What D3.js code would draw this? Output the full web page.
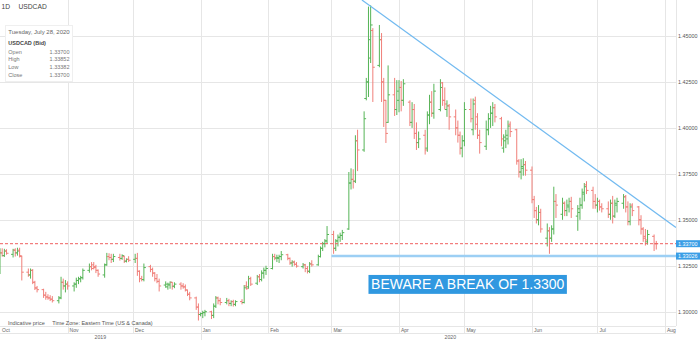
<!DOCTYPE html>
<html>
<head>
<meta charset="utf-8">
<script src="https://cdn.jsdelivr.net/npm/d3@7"></script>
<style>
    html, body { margin: 0; padding: 0; background: #fff; }
    svg { display: block; font-family: "Liberation Sans", Arial, sans-serif; }
</style>
</head>
<body>
<svg id="chart" width="700" height="340"></svg>
<script>
var symbol = 'USDCAD',
    interval = '1D',
    firstDay = '2019-10-01',
    lastDay = '2020-07-28';

// daily bars, one line per week (Mon-Fri)
var opens = [
    1.3240,1.3320,1.3305,1.3330,
    1.3312,1.3335,1.3320,1.3335,1.3300,
    1.3215,1.3200,1.3225,1.3160,1.3128,
    1.3120,1.3090,1.3080,1.3075,1.3068,
    1.3060,1.3075,1.3160,1.3140,1.3150,
    1.3140,1.3150,1.3170,1.3178,1.3185,
    1.3225,1.3245,1.3255,1.3245,1.3225,
    1.3200,1.3255,1.3300,1.3295,1.3285,
    1.3295,1.3290,1.3300,1.3275,1.3285,
    1.3285,1.3290,1.3220,1.3180,1.3175,
    1.3245,1.3230,1.3210,1.3180,1.3165,
    1.3145,1.3135,1.3145,1.3160,1.3138,
    1.3150,1.3140,1.3135,1.3118,1.3095,
    1.3075,1.3025,1.2985,1.2990,1.2995,
    1.3000,1.2980,1.3030,1.3075,1.3060,
    1.3050,1.3060,1.3045,1.3055,1.3040,
    1.3055,1.3050,1.3140,1.3135,1.3180,
    1.3155,1.3190,1.3175,1.3210,1.3225,
    1.3235,1.3300,1.3292,1.3290,1.3300,
    1.3310,1.3290,1.3265,1.3270,1.3258,
    1.3245,1.3255,1.3235,1.3220,1.3260,
    1.3255,1.3300,1.3345,1.3370,1.3385,
    1.3420,1.3345,1.3385,1.3405,1.3415,
    1.3450,1.3700,1.3720,1.3710,1.3930,
    1.3880,1.4160,1.4250,1.4380,1.4530,
    1.4340,1.4480,1.4250,1.4150,1.4030,
    1.4180,1.4100,1.4150,1.4220,1.4150,
    1.4140,1.4030,1.4100,1.3970,1.3920,
    1.3960,1.3890,1.4070,1.4140,1.4080,
    1.4100,1.4245,1.4150,1.4100,1.4120,
    1.4060,1.4000,1.3960,1.3890,1.3930,
    1.4100,1.3990,1.4150,1.4060,1.3960,
    1.3900,1.3990,1.4050,1.4080,1.4110,
    1.4050,1.3890,1.3930,1.3940,1.4020,
    1.3990,1.3820,1.3760,1.3780,1.3800,
    1.3770,1.3610,1.3550,1.3500,1.3540,
    1.3400,1.3440,1.3400,1.3450,1.3600,
    1.3530,1.3590,1.3550,1.3570,1.3600,
    1.3520,1.3540,1.3580,1.3640,1.3690,
    1.3660,1.3600,1.3580,1.3600,1.3570,
    1.3560,1.3530,1.3590,1.3520,1.3580,
    1.3590,1.3625,1.3570,1.3490,1.3580,
    1.3570,1.3500,1.3450,1.3410,1.3380,
    1.3410,1.3370
];

var highs = [
    1.3345,1.3345,1.3342,1.3340,
    1.3342,1.3345,1.3348,1.3348,1.3305,
    1.3235,1.3235,1.3232,1.3168,1.3140,
    1.3125,1.3108,1.3095,1.3090,1.3085,
    1.3085,1.3190,1.3180,1.3172,1.3165,
    1.3160,1.3185,1.3190,1.3195,1.3235,
    1.3262,1.3270,1.3270,1.3255,1.3230,
    1.3262,1.3320,1.3318,1.3315,1.3315,
    1.3315,1.3312,1.3305,1.3290,1.3302,
    1.3315,1.3320,1.3225,1.3195,1.3262,
    1.3255,1.3240,1.3215,1.3205,1.3180,
    1.3165,1.3158,1.3165,1.3162,1.3160,
    1.3160,1.3155,1.3148,1.3120,1.3108,
    1.3082,1.3045,1.2995,1.3005,1.3010,
    1.3005,1.3045,1.3085,1.3082,1.3075,
    1.3075,1.3070,1.3062,1.3065,1.3062,
    1.3068,1.3145,1.3165,1.3195,1.3190,
    1.3200,1.3205,1.3225,1.3240,1.3250,
    1.3315,1.3315,1.3310,1.3310,1.3330,
    1.3315,1.3295,1.3280,1.3278,1.3270,
    1.3265,1.3260,1.3248,1.3270,1.3280,
    1.3310,1.3355,1.3380,1.3395,1.3466,
    1.3440,1.3395,1.3420,1.3430,1.3445,
    1.3760,1.3780,1.3775,1.3960,1.3990,
    1.4090,1.4272,1.4660,1.4667,1.4543,
    1.4560,1.4516,1.4272,1.4152,1.4340,
    1.4272,1.4260,1.4260,1.4255,1.4265,
    1.4150,1.4140,1.4130,1.4030,1.3980,
    1.3990,1.4090,1.4180,1.4200,1.4240,
    1.4265,1.4250,1.4220,1.4150,1.4130,
    1.4100,1.4040,1.3980,1.3960,1.4140,
    1.4160,1.4160,1.4170,1.4080,1.3990,
    1.4040,1.4080,1.4120,1.4140,1.4130,
    1.4060,1.3965,1.3990,1.4040,1.4035,
    1.3995,1.3830,1.3830,1.3835,1.3820,
    1.3790,1.3630,1.3570,1.3580,1.3560,
    1.3480,1.3460,1.3470,1.3680,1.3640,
    1.3620,1.3600,1.3610,1.3620,1.3625,
    1.3580,1.3620,1.3670,1.3700,1.3710,
    1.3680,1.3640,1.3620,1.3610,1.3590,
    1.3600,1.3610,1.3630,1.3610,1.3620,
    1.3640,1.3635,1.3600,1.3590,1.3590,
    1.3575,1.3525,1.3460,1.3450,1.3445,
    1.3420,1.33852
];

var lows = [
    1.3205,1.3300,1.3298,1.3310,
    1.3295,1.3300,1.3305,1.3295,1.3170,
    1.3190,1.3180,1.3150,1.3118,1.3105,
    1.3075,1.3065,1.3065,1.3058,1.3050,
    1.3045,1.3068,1.3120,1.3105,1.3120,
    1.3110,1.3130,1.3150,1.3160,1.3175,
    1.3212,1.3225,1.3230,1.3210,1.3190,
    1.3185,1.3250,1.3280,1.3265,1.3270,
    1.3278,1.3282,1.3265,1.3268,1.3270,
    1.3265,1.3195,1.3160,1.3165,1.3165,
    1.3215,1.3190,1.3165,1.3155,1.3110,
    1.3130,1.3120,1.3125,1.3120,1.3128,
    1.3120,1.3125,1.3110,1.3085,1.3062,
    1.3010,1.2952,1.2975,1.2965,1.2975,
    1.2960,1.2965,1.3020,1.3040,1.3035,
    1.3040,1.3030,1.3030,1.3028,1.3030,
    1.3040,1.3045,1.3120,1.3125,1.3140,
    1.3145,1.3160,1.3165,1.3180,1.3200,
    1.3230,1.3280,1.3270,1.3265,1.3280,
    1.3280,1.3255,1.3245,1.3250,1.3240,
    1.3235,1.3215,1.3208,1.3210,1.3245,
    1.3250,1.3295,1.3330,1.3350,1.3370,
    1.3315,1.3330,1.3355,1.3380,1.3390,
    1.3445,1.3665,1.3670,1.3700,1.3765,
    1.3870,1.4150,1.4168,1.4353,1.4141,
    1.4330,1.4141,1.4005,1.3918,1.4027,
    1.4065,1.4070,1.4085,1.4090,1.4120,
    1.4010,1.4000,1.3940,1.3880,1.3890,
    1.3855,1.3870,1.4020,1.4060,1.4050,
    1.4090,1.4120,1.4100,1.4060,1.3990,
    1.3960,1.3920,1.3855,1.3840,1.3900,
    1.4030,1.3960,1.3990,1.3940,1.3860,
    1.3880,1.3960,1.4000,1.4010,1.4030,
    1.3900,1.3865,1.3890,1.3910,1.3950,
    1.3800,1.3730,1.3720,1.3740,1.3740,
    1.3590,1.3510,1.3480,1.3470,1.3430,
    1.3355,1.3315,1.3380,1.3420,1.3510,
    1.3500,1.3520,1.3520,1.3540,1.3510,
    1.3440,1.3500,1.3560,1.3600,1.3640,
    1.3560,1.3560,1.3540,1.3550,1.3540,
    1.3510,1.3500,1.3480,1.3510,1.3540,
    1.3560,1.3540,1.3470,1.3470,1.3520,
    1.3470,1.3420,1.3380,1.3360,1.3365,
    1.3330,1.33382
];

var closes = [
    1.3320,1.3305,1.3330,1.3318,
    1.3335,1.3320,1.3330,1.3305,1.3215,
    1.3200,1.3225,1.3160,1.3130,1.3120,
    1.3090,1.3080,1.3075,1.3068,1.3060,
    1.3075,1.3160,1.3140,1.3150,1.3140,
    1.3150,1.3170,1.3180,1.3185,1.3225,
    1.3245,1.3235,1.3240,1.3225,1.3205,
    1.3255,1.3300,1.3295,1.3285,1.3300,
    1.3290,1.3305,1.3275,1.3285,1.3280,
    1.3290,1.3220,1.3180,1.3175,1.3240,
    1.3230,1.3210,1.3180,1.3165,1.3140,
    1.3150,1.3150,1.3160,1.3140,1.3150,
    1.3140,1.3135,1.3118,1.3095,1.3075,
    1.3025,1.2985,1.2990,1.2995,1.3000,
    1.2980,1.3030,1.3075,1.3060,1.3050,
    1.3060,1.3045,1.3055,1.3040,1.3055,
    1.3050,1.3130,1.3125,1.3180,1.3150,
    1.3190,1.3175,1.3210,1.3225,1.3235,
    1.3300,1.3292,1.3295,1.3300,1.3310,
    1.3290,1.3265,1.3270,1.3258,1.3248,
    1.3255,1.3235,1.3220,1.3260,1.3255,
    1.3300,1.3345,1.3370,1.3385,1.3420,
    1.3345,1.3385,1.3405,1.3415,1.3430,
    1.3700,1.3720,1.3710,1.3930,1.3880,
    1.4050,1.4250,1.4480,1.4560,1.4330,
    1.4480,1.4250,1.4150,1.3970,1.4180,
    1.4100,1.4200,1.4220,1.4150,1.4240,
    1.4030,1.4100,1.3970,1.3920,1.3940,
    1.3880,1.4070,1.4140,1.4080,1.4200,
    1.4220,1.4150,1.4130,1.4120,1.4060,
    1.4000,1.3960,1.3890,1.3930,1.4100,
    1.4050,1.4130,1.4020,1.3960,1.3920,
    1.3990,1.4050,1.4080,1.4110,1.4060,
    1.3940,1.3950,1.3960,1.4010,1.3980,
    1.3820,1.3760,1.3790,1.3800,1.3770,
    1.3610,1.3550,1.3500,1.3540,1.3450,
    1.3440,1.3400,1.3450,1.3600,1.3580,
    1.3590,1.3550,1.3580,1.3600,1.3560,
    1.3560,1.3580,1.3650,1.3680,1.3660,
    1.3600,1.3580,1.3600,1.3570,1.3560,
    1.3530,1.3590,1.3520,1.3590,1.3600,
    1.3625,1.3570,1.3490,1.3570,1.3550,
    1.3500,1.3450,1.3400,1.3390,1.3420,
    1.3370,1.3370
];

var priceTicks = [1.30, 1.325, 1.35, 1.375, 1.40, 1.425, 1.45],
    monthLabels = ['Oct', 'Nov', 'Dec', 'Jan', 'Feb', 'Mar', 'Apr', 'May', 'Jun', 'Jul', 'Aug'],
    yearLabels = ['2019', '2020'],
    supportLevel = 1.33026,
    trendDates = ['2020-03-15', '2020-08-06'],
    trendPrices = [1.4696, 1.3458],
    note = 'BEWARE A BREAK OF 1.3300';

(function(){
    'use strict';

    var plotW = 676,
        plotH = 326,
        parse = d3.timeParse( '%Y-%m-%d' ),
        fmt = d3.format( '.5f' ),
        svg = d3.select( '#chart' ),
        days = d3.timeDay.range( parse( firstDay ), d3.timeDay.offset( parse( lastDay ), 1 ) )
            .filter( function( d ){ return d.getDay() !== 0 && d.getDay() !== 6; } ),
        bars = days.map( function( d, i ){
            return { date: d, o: opens[i], h: highs[i], l: lows[i], c: closes[i] };
        }),
        last = bars[bars.length - 1],
        months = d3.timeMonth.range( parse( '2019-10-01' ), parse( '2020-08-02' ) ),
        x = d3.scaleTime()
            .domain( [parse( '2019-10-01' ), parse( '2020-08-01' )] )
            .range( [0, 665] ),
        y = d3.scaleLinear()
            .domain( [1.30, 1.45] )
            .range( [311.7, 36] ),
        grid = '#e6e6e6',
        up = '#56b457',
        down = '#f07f79';

    svg.append( 'defs' ).append( 'clipPath' )
        .attr( 'id', 'plot' )
        .append( 'rect' )
        .attr( 'width', plotW )
        .attr( 'height', plotH );

    // grid
    svg.append( 'g' ).selectAll( 'line' )
        .data( priceTicks )
        .join( 'line' )
        .attr( 'x1', 0 ).attr( 'x2', plotW )
        .attr( 'y1', function( d ){ return Math.round( y( d ) ) + 0.5; } )
        .attr( 'y2', function( d ){ return Math.round( y( d ) ) + 0.5; } )
        .attr( 'stroke', grid );

    svg.append( 'g' ).selectAll( 'line' )
        .data( months.slice( 1 ) )
        .join( 'line' )
        .attr( 'x1', function( d ){ return Math.round( x( d ) ) + 0.5; } )
        .attr( 'x2', function( d ){ return Math.round( x( d ) ) + 0.5; } )
        .attr( 'y1', 0 )
        .attr( 'y2', function( d ){ return d.getMonth() === 0 ? 340 : 333; } )
        .attr( 'stroke', grid );

    // axis frame
    svg.append( 'line' )
        .attr( 'x1', 0 ).attr( 'x2', plotW ).attr( 'y1', 326.5 ).attr( 'y2', 326.5 )
        .attr( 'stroke', grid );
    svg.append( 'line' )
        .attr( 'x1', 0 ).attr( 'x2', plotW ).attr( 'y1', 333.5 ).attr( 'y2', 333.5 )
        .attr( 'stroke', grid );
    svg.append( 'line' )
        .attr( 'x1', plotW + 0.5 ).attr( 'x2', plotW + 0.5 ).attr( 'y1', 0 ).attr( 'y2', plotH )
        .attr( 'stroke', grid );

    var plot = svg.append( 'g' ).attr( 'clip-path', 'url(#plot)' );

    // ohlc bars
    var $bar = plot.append( 'g' ).selectAll( 'g' )
        .data( bars )
        .join( 'g' )
        .attr( 'stroke', function( d ){ return d.c > d.o ? up : down; } )
        .attr( 'stroke-width', 1 );

    $bar.append( 'line' )
        .attr( 'x1', function( d ){ return x( d.date ); } )
        .attr( 'x2', function( d ){ return x( d.date ); } )
        .attr( 'y1', function( d ){ return y( d.h ); } )
        .attr( 'y2', function( d ){ return y( d.l ); } );
    $bar.append( 'line' )
        .attr( 'x1', function( d ){ return x( d.date ) - 2; } )
        .attr( 'x2', function( d ){ return x( d.date ); } )
        .attr( 'y1', function( d ){ return y( d.o ); } )
        .attr( 'y2', function( d ){ return y( d.o ); } );
    $bar.append( 'line' )
        .attr( 'x1', function( d ){ return x( d.date ); } )
        .attr( 'x2', function( d ){ return x( d.date ) + 2; } )
        .attr( 'y1', function( d ){ return y( d.c ); } )
        .attr( 'y2', function( d ){ return y( d.c ); } );

    // last price, support and trend lines
    plot.append( 'line' )
        .attr( 'x1', 0 ).attr( 'x2', plotW )
        .attr( 'y1', y( last.c ) ).attr( 'y2', y( last.c ) )
        .attr( 'stroke', '#ef5f5f' )
        .attr( 'stroke-dasharray', '3,2' );

    plot.append( 'line' )
        .attr( 'x1', x( parse( '2020-03-01' ) ) ).attr( 'x2', plotW )
        .attr( 'y1', y( supportLevel ) ).attr( 'y2', y( supportLevel ) )
        .attr( 'stroke', '#9ccff4' )
        .attr( 'stroke-width', 2.5 );

    plot.append( 'line' )
        .attr( 'x1', x( parse( trendDates[0] ) ) ).attr( 'x2', x( parse( trendDates[1] ) ) )
        .attr( 'y1', y( trendPrices[0] ) ).attr( 'y2', y( trendPrices[1] ) )
        .attr( 'stroke', '#72baf0' )
        .attr( 'stroke-width', 1.2 );

    // annotation
    var ax0 = x( parse( '2020-03-18' ) ),
        ax1 = x( parse( '2020-06-17' ) ),
        ay0 = y( 1.3200 ),
        ay1 = y( 1.3097 );
    svg.append( 'rect' )
        .attr( 'x', ax0 ).attr( 'y', ay0 )
        .attr( 'width', ax1 - ax0 ).attr( 'height', ay1 - ay0 )
        .attr( 'fill', '#3098e0' );
    svg.append( 'text' )
        .attr( 'x', ( ax0 + ax1 ) / 2 )
        .attr( 'y', ( ay0 + ay1 ) / 2 + 5 )
        .attr( 'text-anchor', 'middle' )
        .attr( 'font-size', 14 )
        .attr( 'fill', '#fff' )
        .text( note );

    // right axis
    svg.append( 'g' ).selectAll( 'text' )
        .data( priceTicks )
        .join( 'text' )
        .attr( 'x', 678 )
        .attr( 'y', function( d ){ return y( d ) + 2; } )
        .attr( 'font-size', 5.4 )
        .attr( 'fill', '#555' )
        .text( fmt );

    [last.c, supportLevel].forEach( function( v ){
        svg.append( 'rect' )
            .attr( 'x', plotW ).attr( 'y', y( v ) - 3.5 )
            .attr( 'width', 24 ).attr( 'height', 7 )
            .attr( 'fill', '#3a9ee6' );
        svg.append( 'text' )
            .attr( 'x', 678 ).attr( 'y', y( v ) + 2 )
            .attr( 'font-size', 5.4 )
            .attr( 'fill', '#fff' )
            .text( fmt( v ) );
    });

    // bottom axis
    svg.append( 'g' ).selectAll( 'text' )
        .data( months )
        .join( 'text' )
        .attr( 'x', function( d ){ return x( d ) + 2; } )
        .attr( 'y', 331.5 )
        .attr( 'font-size', 5 )
        .attr( 'fill', '#666' )
        .text( function( d, i ){ return monthLabels[i]; } );

    var yearSpans = [[0, x( parse( '2020-01-01' ) )], [x( parse( '2020-01-01' ) ), 700]];
    svg.append( 'g' ).selectAll( 'text' )
        .data( yearLabels )
        .join( 'text' )
        .attr( 'x', function( d, i ){ return ( yearSpans[i][0] + yearSpans[i][1] ) / 2; } )
        .attr( 'y', 339 )
        .attr( 'text-anchor', 'middle' )
        .attr( 'font-size', 5.2 )
        .attr( 'fill', '#666' )
        .text( function( d ){ return d; } );

    svg.append( 'rect' )
        .attr( 'x', plotW + 1 ).attr( 'y', 327 )
        .attr( 'width', 23 ).attr( 'height', 13 )
        .attr( 'fill', '#fff' );

    svg.append( 'text' )
        .attr( 'x', 8 ).attr( 'y', 325 )
        .attr( 'font-size', 5.5 ).attr( 'fill', '#555' )
        .text( 'Indicative price' );
    svg.append( 'text' )
        .attr( 'x', 52.3 ).attr( 'y', 325 )
        .attr( 'font-size', 5.5 ).attr( 'fill', '#555' )
        .text( 'Time Zone: Eastern Time (US & Canada)' );

    // header and legend box
    svg.append( 'text' )
        .attr( 'x', 1.5 ).attr( 'y', 9 )
        .attr( 'font-size', 6.7 ).attr( 'fill', '#444' )
        .text( interval );
    svg.append( 'text' )
        .attr( 'x', 18.5 ).attr( 'y', 9 )
        .attr( 'font-size', 6.7 ).attr( 'fill', '#444' )
        .text( symbol );

    var legend = svg.append( 'g' );
    legend.append( 'rect' )
        .attr( 'x', 5.5 ).attr( 'y', 25.5 )
        .attr( 'width', 67 ).attr( 'height', 56 )
        .attr( 'fill', '#fff' )
        .attr( 'stroke', '#efefef' );
    legend.append( 'text' )
        .attr( 'x', 8.3 ).attr( 'y', 33.7 )
        .attr( 'font-size', 6 ).attr( 'fill', '#666' )
        .text( d3.timeFormat( '%A, %B %-d, %Y' )( last.date ) );
    legend.append( 'text' )
        .attr( 'x', 8.3 ).attr( 'y', 45.2 )
        .attr( 'font-size', 5.5 ).attr( 'font-weight', 'bold' ).attr( 'fill', '#444' )
        .text( symbol + ' (Bid)' );

    var rows = [['Open', last.o], ['High', last.h], ['Low', last.l], ['Close', last.c]];
    rows.forEach( function( r, i ){
        var ry = 53.6 + i * 7.75;
        legend.append( 'text' )
            .attr( 'x', 8.3 ).attr( 'y', ry )
            .attr( 'font-size', 5.5 ).attr( 'fill', '#777' )
            .text( r[0] );
        legend.append( 'text' )
            .attr( 'x', 69.5 ).attr( 'y', ry )
            .attr( 'text-anchor', 'end' )
            .attr( 'font-size', 5.5 ).attr( 'fill', '#777' )
            .text( fmt( r[1] ) );
    });
}());
</script>
</body>
</html>
